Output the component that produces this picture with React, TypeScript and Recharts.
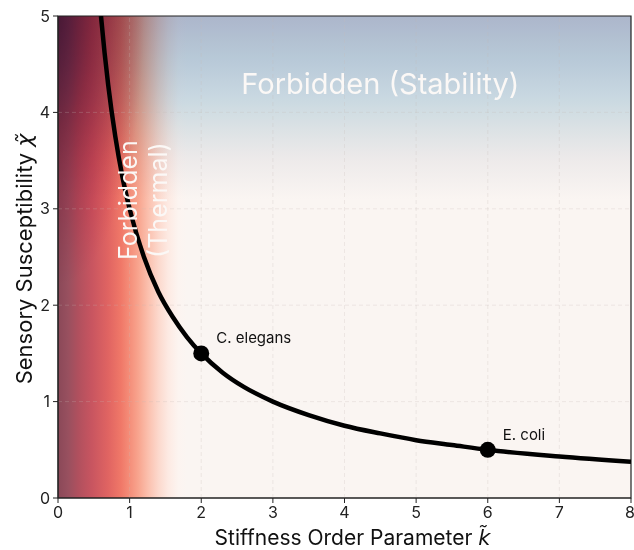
import {
  ComposedChart,
  Line,
  Scatter,
  XAxis,
  YAxis,
  ReferenceArea,
  ReferenceLine,
  ReferenceDot,
} from 'recharts';

const FONT = 'Inter, "DejaVu Sans", sans-serif';
const MATH_FONT = '"DejaVu Sans", sans-serif';

// phase boundary
const kCurve = [0.6, 0.65, 0.7, 0.8, 0.9, 1.0, 1.2, 1.4, 1.6, 1.8, 2.0, 2.3, 2.6, 3.0, 3.5, 4.0, 4.5, 5.0, 5.5, 6.0, 7.0, 8.0];
const chiCurve = [5.0, 4.62, 4.29, 3.75, 3.33, 3.0, 2.5, 2.14, 1.88, 1.67, 1.5, 1.3, 1.15, 1.0, 0.86, 0.75, 0.67, 0.6, 0.55, 0.5, 0.43, 0.375];

const species = ['C. elegans', 'E. coli'];
const speciesK = [2, 6];
const speciesChi = [1.5, 0.5];

const xTicks = [0, 1, 2, 3, 4, 5, 6, 7, 8];
const yTicks = [0, 1, 2, 3, 4, 5];

const stabilityLabel = 'Forbidden (Stability)';
const thermalLabel = ['Forbidden', '(Thermal)'];

const curveData = kCurve.map((k, i) => ({ k, chi: chiCurve[i] }));
const speciesData = species.map((name, i) => ({ name, k: speciesK[i], chi: speciesChi[i] }));

const blendRect = (fill: string, mode: string) => (p: any) => (
  <rect x={p.x} y={p.y} width={p.width} height={p.height} fill={fill} style={{ mixBlendMode: mode as any }} />
);

const SpeciesDot = (p: any) => (
  <g>
    <circle cx={p.cx} cy={p.cy} r={8} fill="#000" />
    <text x={p.cx + 15} y={p.cy - 10} fontSize={15} fill="#111" fontFamily={FONT}>
      {p.payload.name}
    </text>
  </g>
);

export default function App() {
  return (
    <>
      <style>{'body { margin: 0; background: #fff; }'}</style>
      <ComposedChart width={634} height={550} data={curveData} margin={{ top: 16, right: 3, left: 0, bottom: 0 }}>
        <defs>
          <linearGradient id="thermal" x1="0" y1="0" x2="1" y2="0">
            <stop offset="0" stopColor="#8a4858" />
            <stop offset="0.07" stopColor="#98505f" />
            <stop offset="0.14" stopColor="#b0505e" />
            <stop offset="0.235" stopColor="#c85560" />
            <stop offset="0.35" stopColor="#e06462" />
            <stop offset="0.44" stopColor="#f07868" />
            <stop offset="0.49" stopColor="#f48a76" />
            <stop offset="0.56" stopColor="#f8a48e" />
            <stop offset="0.63" stopColor="#fbc0ae" />
            <stop offset="0.7" stopColor="#fcd8cc" />
            <stop offset="0.77" stopColor="#fdeae3" />
            <stop offset="0.84" stopColor="#fcf4f0" />
            <stop offset="0.9" stopColor="#faf5f2" />
            <stop offset="1" stopColor="#faf5f2" />
          </linearGradient>
          <linearGradient id="stability" x1="0" y1="0" x2="0" y2="1">
            <stop offset="0" stopColor="#b0bed6" />
            <stop offset="0.24" stopColor="#bcd2e4" />
            <stop offset="0.46" stopColor="#cee2ee" />
            <stop offset="0.62" stopColor="#e1ecf2" />
            <stop offset="0.78" stopColor="#f2f4f7" />
            <stop offset="1" stopColor="#ffffff" />
          </linearGradient>
          <radialGradient id="corner" cx="0" cy="0" r="1">
            <stop offset="0" stopColor="#c070b8" />
            <stop offset="0.4" stopColor="#f09ac0" />
            <stop offset="1" stopColor="#ffffff" />
          </radialGradient>
        </defs>

        <ReferenceArea x1={0} x2={8} y1={0} y2={5} fill="#faf5f2" fillOpacity={1} stroke="none" />
        <ReferenceArea x1={0} x2={2} y1={0} y2={5} shape={blendRect('url(#thermal)', 'normal')} />
        <ReferenceArea x1={0} x2={8} y1={3.1} y2={5} shape={blendRect('url(#stability)', 'multiply')} />
        <ReferenceArea x1={0} x2={1.2} y1={2.2} y2={5} shape={blendRect('url(#corner)', 'multiply')} />

        {xTicks.slice(1, -1).map((t) => (
          <ReferenceLine key={'x' + t} x={t} stroke="#c8bcb8" strokeOpacity={0.25} strokeDasharray="4 3" />
        ))}
        {yTicks.slice(1, -1).map((t) => (
          <ReferenceLine key={'y' + t} y={t} stroke="#c8bcb8" strokeOpacity={0.25} strokeDasharray="4 3" />
        ))}

        <XAxis
          dataKey="k"
          type="number"
          domain={[0, 8]}
          ticks={xTicks}
          allowDataOverflow
          height={52}
          tickSize={5}
          tickMargin={4}
          stroke="#222"
          tick={{ fill: '#222', fontSize: 16, fontFamily: FONT }}
          label={{
            content: ({ viewBox }: any) => (
              <text x={viewBox.x + viewBox.width / 2 + 8} y={544.5} textAnchor="middle" fontSize={21} fill="#111" fontFamily={FONT}>
                Stiffness Order Parameter{' '}
                <tspan fontStyle="italic" fontFamily={MATH_FONT}>
                  k̃
                </tspan>
              </text>
            ),
          }}
        />
        <YAxis
          dataKey="chi"
          type="number"
          domain={[0, 5]}
          ticks={yTicks}
          allowDataOverflow
          width={58}
          tickSize={5}
          tickMargin={3}
          stroke="#222"
          tick={{ fill: '#222', fontSize: 16, fontFamily: FONT }}
          label={{
            content: ({ viewBox }: any) => {
              const cy = viewBox.y + viewBox.height / 2 + 2;
              return (
                <text
                  x={24}
                  y={cy}
                  transform={`rotate(-90, 24, ${cy})`}
                  textAnchor="middle"
                  dominantBaseline="central"
                  fontSize={22}
                  fill="#111"
                  fontFamily={FONT}
                >
                  Sensory Susceptibility{' '}
                  <tspan fontStyle="italic" fontFamily={MATH_FONT}>
                    χ̃
                  </tspan>
                </text>
              );
            },
          }}
        />

        <ReferenceDot
          x={4.5}
          y={4.3}
          r={0}
          shape={(p: any) => (
            <text x={p.cx} y={p.cy} textAnchor="middle" dominantBaseline="central" fontSize={29} fill="#fbf8f6" fontFamily={FONT}>
              {stabilityLabel}
            </text>
          )}
        />
        <ReferenceDot
          x={1.18}
          y={3.09}
          r={0}
          shape={(p: any) => (
            <g transform={`rotate(-90, ${p.cx}, ${p.cy})`}>
              {thermalLabel.map((s, i) => (
                <text
                  key={s}
                  x={p.cx}
                  y={p.cy + (i === 0 ? -15 : 15)}
                  textAnchor="middle"
                  dominantBaseline="central"
                  fontSize={25}
                  fill="#fbf8f6"
                  fontFamily={FONT}
                >
                  {s}
                </text>
              ))}
            </g>
          )}
        />

        <Line dataKey="chi" type="monotone" stroke="#000" strokeWidth={4.5} dot={false} isAnimationActive={false} />
        <Scatter data={speciesData} dataKey="chi" shape={SpeciesDot} isAnimationActive={false} />

        <ReferenceArea x1={0} x2={8} y1={0} y2={5} fill="none" stroke="#222" strokeWidth={1.2} />
      </ComposedChart>
    </>
  );
}
